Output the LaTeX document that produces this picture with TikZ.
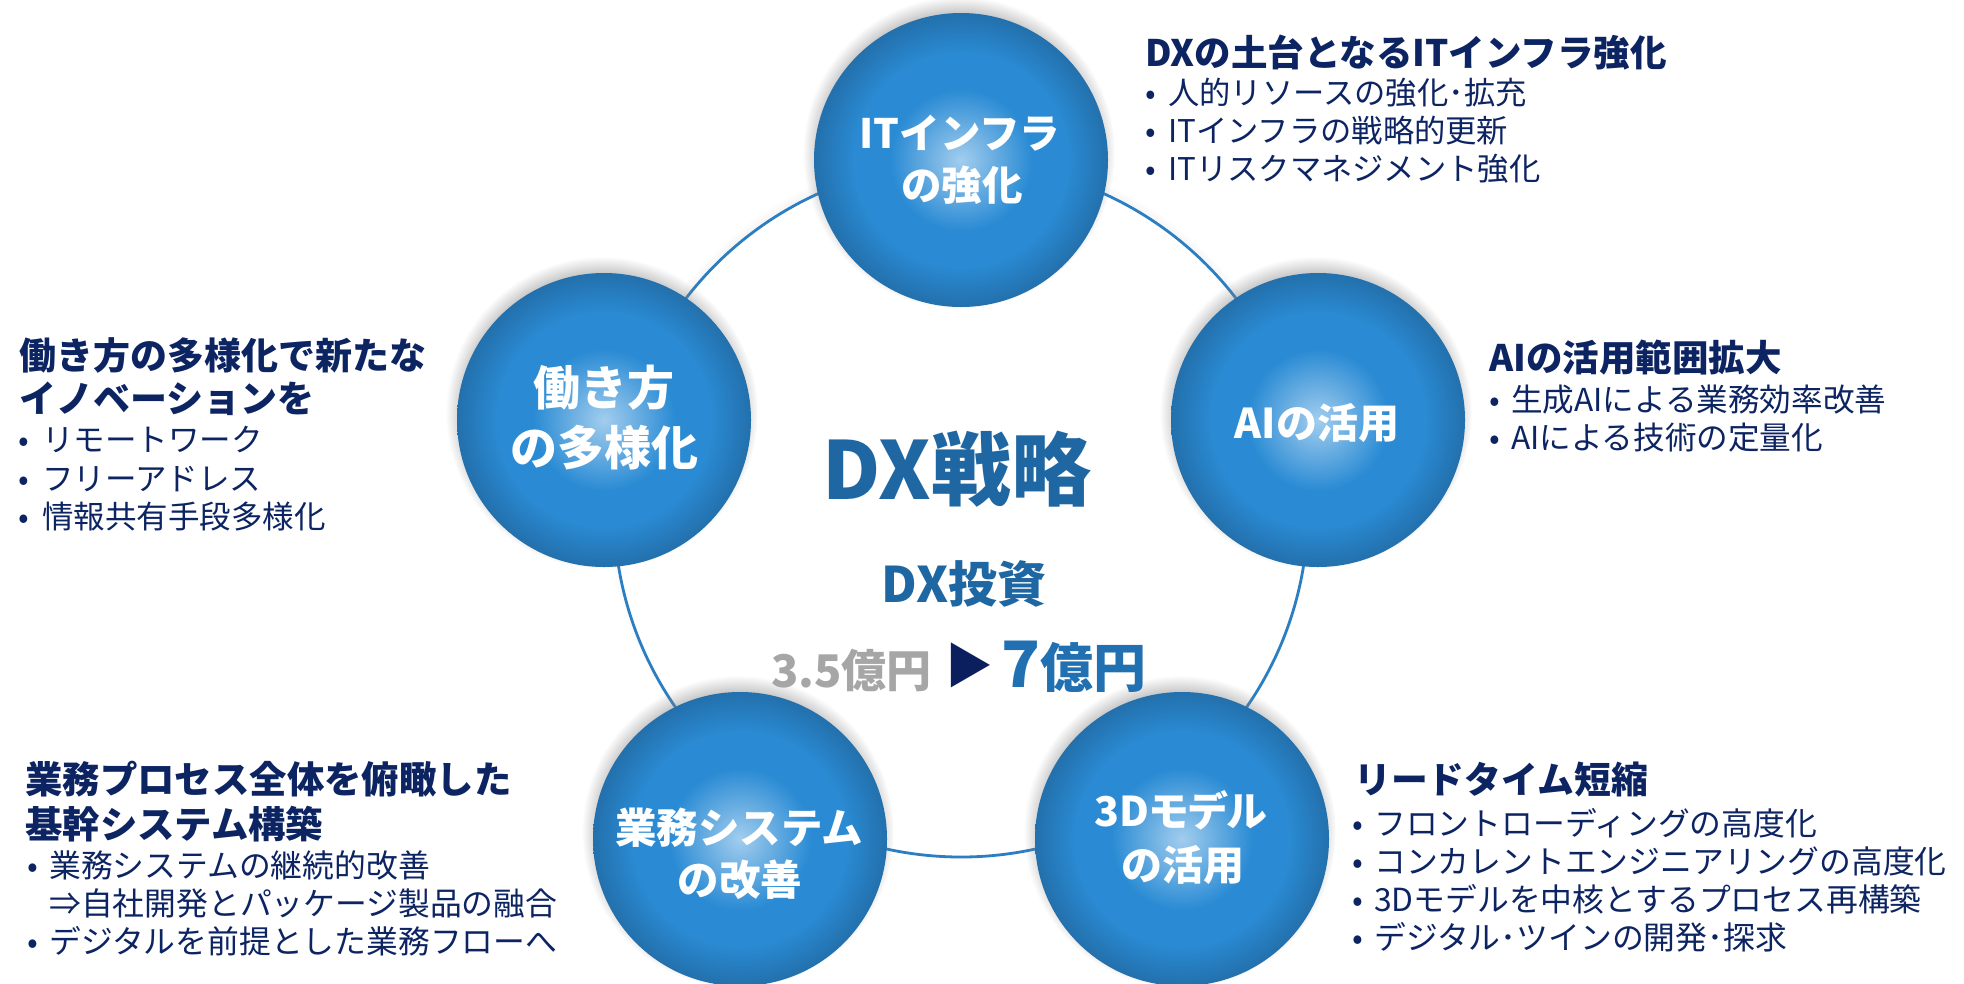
\documentclass[tikz,border=0pt]{standalone}
\usepackage{fontspec}
\setmainfont{Noto Sans CJK JP}
\newfontfamily\paltfont{Noto Sans CJK JP}[RawFeature={+palt}]
\usetikzlibrary{shadows}
\definecolor{navy}{HTML}{0D2463}
\definecolor{ringblue}{HTML}{2C7EC2}
\definecolor{dxblue}{HTML}{1F67A3}
\definecolor{ballL}{HTML}{A2CDEE}
\definecolor{ballM}{HTML}{2A8BD4}
\definecolor{ballE}{HTML}{2370AC}
\definecolor{oldgray}{HTML}{A6A6A6}
\definecolor{trinavy}{HTML}{0B1F5E}
\definecolor{newblue}{HTML}{2171B2}
\pgfdeclareradialshading{ballshade}{\pgfpoint{0bp}{0bp}}{color(0bp)=(ballL); color(12bp)=(ballM); color(18bp)=(ballM); color(25bp)=(ballE); color(50bp)=(ballE)}
\tikzset{
  ballnode/.style={circle, minimum size=294pt, inner sep=0pt, shade, shading=ballshade,
    circular drop shadow={shadow xshift=-2pt, shadow yshift=7pt, shadow scale=1.06, opacity=0.6}},
  txt/.style={inner sep=0pt, text height={0.88*#1pt}, text depth={0.12*#1pt}},
  headtxt/.style={txt=#1, anchor=west, text=navy, font={\bfseries\fontsize{#1}{#1}\selectfont}},
  itemtxt/.style={txt=#1, anchor=west, text=navy, font={\fontsize{#1}{#1}\selectfont}},
  dot/.style={txt=#1, anchor=center, text=navy, font={\fontsize{#1}{#1}\selectfont}},
  balltxt/.style={txt=#1, anchor=center, text=white, font={\bfseries\fontsize{#1}{#1}\selectfont}},
}
\begin{document}
\begin{tikzpicture}[x=1pt, y=-1pt]
\useasboundingbox (0,0) rectangle (1964,983);
\fill[white] (0,0) rectangle (1964,983);

% ring
\node (ring) [circle, minimum size=694pt, inner sep=0pt, draw=ringblue, line width=2.8pt, fill=white,
  circular drop shadow={shadow xshift=-1pt, shadow yshift=5pt, shadow scale=1.015, opacity=0.45}] at (961,510) {};

% balls
\node (c1) [ballnode] at (961,160) {};
\node (c2) [ballnode] at (604,420) {};
\node (c3) [ballnode] at (1318,420) {};
\node (c4) [ballnode] at (740,839) {};
\node (c5) [ballnode] at (1182,839) {};

% ball texts
\node (c1a) [balltxt=40.5] at (960,133) {ITインフラ};
\node (c1b) [balltxt=40.5] at (962,185) {の強化};
\node (c2a) [balltxt=47] at (604,388) {働き方};
\node (c2b) [balltxt=47] at (604,448) {の多様化};
\node (c3a) [balltxt=41] at (1317,423) {AIの活用};
\node (c4a) [balltxt=41.5] at (739,828) {業務システム};
\node (c4b) [balltxt=41.5] at (740,880) {の改善};
\node (c5a) [balltxt=41, font={\paltfont\bfseries\fontsize{41}{41}\selectfont}] at (1181,811) {3Dモデル};
\node (c5b) [balltxt=41] at (1183,865) {の活用};

% center texts
\node (dx) [txt=80, anchor=center, text=dxblue, font={\bfseries\fontsize{80}{80}\selectfont}] at (957,469) {DX戦略};
\node (inv) [txt=49, anchor=center, text=dxblue, font={\bfseries\fontsize{49}{49}\selectfont}] at (964,584) {DX投資};
\node (old) [inner sep=0pt, anchor=base west, text=oldgray, font={\bfseries\fontsize{45}{45}\selectfont}] at (771,687) {3.5億円};
\node (tri) [txt=48, anchor=center, text=trinavy, font={\fontsize{48}{48}\selectfont}] at (969,665) {▶};
\node (new) [inner sep=0pt, anchor=base west, text=newblue, font={\bfseries\fontsize{53}{53}\selectfont}] at (1001,687) {{\fontsize{64}{64}\selectfont 7}億円};

% top-right block
\node (trh) [headtxt=36.5] at (1145,53) {DXの土台となるITインフラ強化};
\node (trd1) [dot=31.3] at (1151,93) {•};
\node (tr1) [itemtxt=31.3] at (1168,93) {人的リソースの強化･拡充};
\node (trd2) [dot=31.3] at (1151,131) {•};
\node (tr2) [itemtxt=31.3] at (1168,131) {ITインフラの戦略的更新};
\node (trd3) [dot=31.3] at (1151,169) {•};
\node (tr3) [itemtxt=31.3] at (1168,169) {ITリスクマネジメント強化};

% left block
\node (lh1) [headtxt=37] at (19,355) {働き方の多様化で新たな};
\node (lh2) [headtxt=37] at (19,398) {イノベーションを};
\node (ld1) [dot=31.5] at (24,440) {•};
\node (l1) [itemtxt=31.5] at (42,440) {リモートワーク};
\node (ld2) [dot=31.5] at (24,479) {•};
\node (l2) [itemtxt=31.5] at (42,479) {フリーアドレス};
\node (ld3) [dot=31.5] at (24,517) {•};
\node (l3) [itemtxt=31.5] at (42,517) {情報共有手段多様化};

% AI block
\node (aih) [headtxt=36.5] at (1489,358) {AIの活用範囲拡大};
\node (aid1) [dot=31.6] at (1495,399) {•};
\node (ai1) [itemtxt=31.6] at (1511,399) {生成AIによる業務効率改善};
\node (aid2) [dot=31.6] at (1495,437) {•};
\node (ai2) [itemtxt=31.6] at (1511,437) {AIによる技術の定量化};

% bottom-left block
\node (blh1) [headtxt=37.4] at (25,779) {業務プロセス全体を俯瞰した};
\node (blh2) [headtxt=37.4] at (25,824) {基幹システム構築};
\node (bld1) [dot=31.8] at (33,865) {•};
\node (bl1) [itemtxt=31.8] at (49,865) {業務システムの継続的改善};
\node (bl2) [itemtxt=31.8] at (49,903) {⇒自社開発とパッケージ製品の融合};
\node (bld3) [dot=31.8] at (33,941) {•};
\node (bl3) [itemtxt=31.8] at (49,941) {デジタルを前提とした業務フローへ};

% bottom-right block
\node (brh) [headtxt=36.8] at (1354,780) {リードタイム短縮};
\node (brd1) [dot=31.8] at (1358,823) {•};
\node (br1) [itemtxt=31.8] at (1374,823) {フロントローディングの高度化};
\node (brd2) [dot=31.8] at (1358,861) {•};
\node (br2) [itemtxt=31.8] at (1374,861) {コンカレントエンジニアリングの高度化};
\node (brd3) [dot=31.8] at (1358,899) {•};
\node (br3) [itemtxt=31.8] at (1374,899) {3Dモデルを中核とするプロセス再構築};
\node (brd4) [dot=31.8] at (1358,937) {•};
\node (br4) [itemtxt=31.8] at (1374,937) {デジタル･ツインの開発･探求};
\end{tikzpicture}
\end{document}
